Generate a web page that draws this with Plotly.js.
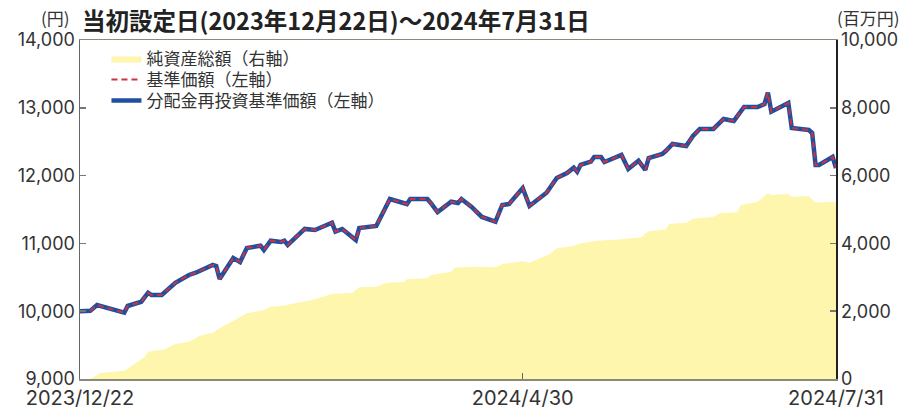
<!DOCTYPE html>
<html>
<head>
<meta charset="utf-8">
<script src="https://cdn.plot.ly/plotly-3.0.1.min.js"></script>
<style>
html,body{margin:0;padding:0;background:#fff;}
#chart{width:906px;height:409px;}
</style>
</head>
<body>
<div id="chart"></div>
<script>
// 基準価額 / 分配金再投資基準価額 (円)
const navDates = ['2023-12-22','2023-12-25','2023-12-27','2024-01-04','2024-01-05','2024-01-09','2024-01-11','2024-01-12','2024-01-15','2024-01-17','2024-01-19','2024-01-23','2024-01-25','2024-01-30','2024-01-31','2024-02-01','2024-02-05','2024-02-07','2024-02-09','2024-02-13','2024-02-14','2024-02-16','2024-02-19','2024-02-20','2024-02-21','2024-02-26','2024-02-29','2024-03-05','2024-03-06','2024-03-08','2024-03-12','2024-03-13','2024-03-18','2024-03-22','2024-03-27','2024-03-28','2024-04-02','2024-04-03','2024-04-05','2024-04-09','2024-04-11','2024-04-12','2024-04-15','2024-04-18','2024-04-22','2024-04-24','2024-04-26','2024-04-30','2024-05-02','2024-05-07','2024-05-10','2024-05-13','2024-05-15','2024-05-16','2024-05-17','2024-05-20','2024-05-21','2024-05-23','2024-05-24','2024-05-29','2024-05-31','2024-06-03','2024-06-05','2024-06-06','2024-06-10','2024-06-11','2024-06-13','2024-06-17','2024-06-19','2024-06-21','2024-06-25','2024-06-28','2024-07-01','2024-07-04','2024-07-08','2024-07-10','2024-07-11','2024-07-12','2024-07-17','2024-07-18','2024-07-23','2024-07-24','2024-07-25','2024-07-26','2024-07-30','2024-07-31'];
const navValues = [10000,10005,10090,9978,10077,10140,10273,10239,10239,10328,10420,10534,10568,10682,10667,10475,10785,10726,10932,10966,10903,11040,11020,11040,10977,11213,11198,11305,11173,11213,11050,11227,11257,11655,11581,11655,11655,11596,11463,11615,11596,11655,11537,11390,11320,11567,11581,11817,11552,11748,11965,12039,12117,12058,12157,12205,12275,12275,12201,12304,12098,12220,12083,12260,12319,12363,12466,12437,12584,12688,12688,12835,12806,13012,13012,13056,13223,12943,13071,12702,12673,12629,12157,12157,12275,12112];
const reinvestValues = [10000,10005,10090,9978,10077,10140,10273,10239,10239,10328,10420,10534,10568,10682,10667,10475,10785,10726,10932,10966,10903,11040,11020,11040,10977,11213,11198,11305,11173,11213,11050,11227,11257,11655,11581,11655,11655,11596,11463,11615,11596,11655,11537,11390,11320,11567,11581,11817,11552,11748,11965,12039,12117,12058,12157,12205,12275,12275,12201,12304,12098,12220,12083,12260,12319,12363,12466,12437,12584,12688,12688,12835,12806,13012,13012,13056,13223,12943,13071,12702,12673,12629,12157,12157,12275,12112];

// 純資産総額 (百万円)
const aumDates = ['2023-12-22','2023-12-25','2023-12-28','2024-01-04','2024-01-05','2024-01-10','2024-01-11','2024-01-16','2024-01-17','2024-01-19','2024-01-23','2024-01-26','2024-01-29','2024-01-30','2024-02-01','2024-02-07','2024-02-09','2024-02-14','2024-02-16','2024-02-19','2024-02-22','2024-02-28','2024-03-05','2024-03-11','2024-03-13','2024-03-18','2024-03-21','2024-03-26','2024-03-27','2024-04-02','2024-04-03','2024-04-09','2024-04-10','2024-04-15','2024-04-22','2024-04-24','2024-04-30','2024-05-02','2024-05-08','2024-05-10','2024-05-15','2024-05-17','2024-05-22','2024-05-29','2024-06-04','2024-06-05','2024-06-06','2024-06-10','2024-06-11','2024-06-12','2024-06-17','2024-06-19','2024-06-25','2024-06-27','2024-07-02','2024-07-03','2024-07-08','2024-07-11','2024-07-12','2024-07-17','2024-07-18','2024-07-23','2024-07-25','2024-07-30','2024-07-31'];
const aumValues = [0,0,180,240,300,658,805,876,935,1032,1100,1268,1348,1366,1495,1820,1938,2035,2133,2153,2212,2330,2507,2546,2705,2723,2841,2860,2940,2970,3068,3165,3283,3313,3295,3392,3471,3431,3688,3855,3924,4003,4080,4121,4180,4290,4360,4400,4416,4573,4611,4729,4788,4887,4916,5133,5231,5478,5428,5458,5378,5399,5201,5231,5201];

const xTickVals = ['2023-12-22','2024-04-30','2024-07-31'];
const xTickText = ['2023/12/22','2024/4/30','2024/7/31'];
const leftTicks = [9000,10000,11000,12000,13000,14000];
const rightTicks = [0,2000,4000,6000,8000,10000];

const jp = '"Noto Sans CJK JP", "Noto Sans", sans-serif';
const num = 'Inter, "Liberation Sans", Arial, sans-serif';

const traces = [
  {
    x: aumDates, y: aumValues, yaxis: 'y2', type: 'scatter', mode: 'lines',
    name: '純資産総額（右軸）', fill: 'tozeroy', fillcolor: '#fff6ad',
    line: {width: 0, color: '#fff6ad'}, legend: 'legend'
  },
  {
    x: navDates, y: reinvestValues, type: 'scatter', mode: 'lines',
    name: '分配金再投資基準価額（左軸）', line: {color: '#1f4fa0', width: 4.5}, legend: 'legend3'
  },
  {
    x: navDates, y: navValues, type: 'scatter', mode: 'lines',
    name: '基準価額（左軸）', line: {color: '#cc3340', width: 2, dash: '6px,4px'}, legend: 'legend2'
  }
];

const legendFont = {family: jp, size: 17, color: '#333333'};
function legendAt(yc) {
  return {
    x: 0.035, xanchor: 'left', y: (379 - yc) / 339, yanchor: 'middle',
    font: legendFont, bgcolor: 'rgba(0,0,0,0)', itemwidth: 30
  };
}

const layout = {
  width: 906, height: 409,
  margin: {l: 80, r: 70, t: 40, b: 30},
  paper_bgcolor: '#ffffff', plot_bgcolor: '#ffffff',
  showlegend: true,
  legend: legendAt(59),
  legend2: legendAt(80),
  legend3: legendAt(101),
  title: {
    text: '<b>当初設定日(2023年12月22日)〜2024年7月31日</b>',
    font: {family: jp, size: 23.5, color: '#222222'},
    x: 82/906, xref: 'container', xanchor: 'left',
    y: 1 - 22/409, yref: 'container', yanchor: 'middle'
  },
  xaxis: {
    type: 'date', range: ['2023-12-22', '2024-07-31'],
    tickvals: xTickVals, ticktext: xTickText,
    ticks: 'inside', ticklen: 6, tickcolor: '#666666', tickwidth: 1,
    showline: true, linecolor: '#8a8a7a', linewidth: 1.5, mirror: true,
    showgrid: false, zeroline: false,
    tickfont: {family: num, size: 20, color: '#333333'}
  },
  yaxis: {
    range: [9000, 14000], tickvals: leftTicks, tickformat: ',d',
    ticks: 'inside', ticklen: 6, tickcolor: '#777777', tickwidth: 1.5,
    showline: true, linecolor: '#666666', linewidth: 1.5,
    showgrid: false, zeroline: false,
    tickfont: {family: num, size: 18, color: '#333333'}
  },
  yaxis2: {
    overlaying: 'y', side: 'right', range: [0, 10000], tickvals: rightTicks, tickformat: ',d',
    ticks: 'inside', ticklen: 6, tickcolor: '#777777', tickwidth: 1.5,
    showline: true, linecolor: '#222222', linewidth: 1.5,
    showgrid: false, zeroline: false,
    tickfont: {family: num, size: 18, color: '#333333'}
  },
  annotations: [
    {text: '(円)', xref: 'paper', yref: 'paper', x: 0, y: 1, xshift: -8, yshift: 23,
     xanchor: 'right', yanchor: 'middle', showarrow: false,
     font: {family: jp, size: 17, color: '#333333'}},
    {text: '(百万円)', xref: 'paper', yref: 'paper', x: 1, y: 1, xshift: -1, yshift: 23,
     xanchor: 'left', yanchor: 'middle', showarrow: false,
     font: {family: jp, size: 17, color: '#333333'}}
  ]
};

Plotly.newPlot('chart', traces, layout, {staticPlot: true, displayModeBar: false});
</script>
</body>
</html>
